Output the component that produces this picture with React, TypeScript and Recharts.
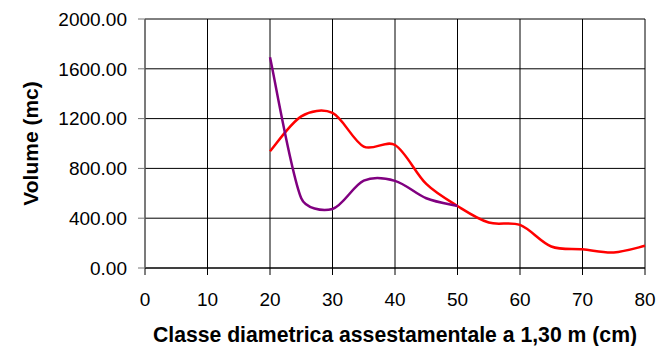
import React from 'react';
import {
  LineChart,
  Line,
  XAxis,
  YAxis,
  CartesianGrid,
} from 'recharts';

// diameter classes (cm)
const diameters = [20, 25, 30, 35, 40, 45, 50, 55, 60, 65, 70, 75, 80];
// red series volume (mc)
const volumeRed = [938, 1218, 1245, 975, 988, 675, 498, 365, 346, 173, 150, 125, 178];
// purple series volume (mc), stops at class 50
const volumePurple = [1693, 560, 474, 701, 700, 560, 498];

const xTicks = [0, 10, 20, 30, 40, 50, 60, 70, 80];
const yTicks = [0, 400, 800, 1200, 1600, 2000];

const data = diameters.map((d, i) => ({
  d,
  red: volumeRed[i],
  purple: i < volumePurple.length ? volumePurple[i] : null,
}));

const font = 'Arial, "Liberation Sans", sans-serif';

// spreadsheet-style smoothing: Catmull-Rom, control arms capped to 1/3 of the segment
const smoothCurve = (context: any) => {
  let pts: number[][] = [];
  const arm = (a: number[], b: number[], seg: number) => {
    let dx = (b[0] - a[0]) / 6;
    let dy = (b[1] - a[1]) / 6;
    const len = Math.hypot(dx, dy);
    const max = seg / 3;
    if (len > max && len > 0) {
      dx *= max / len;
      dy *= max / len;
    }
    return [dx, dy];
  };
  return {
    areaStart() {},
    areaEnd() {},
    lineStart() {
      pts = [];
    },
    lineEnd() {
      if (!pts.length) return;
      context.moveTo(pts[0][0], pts[0][1]);
      for (let i = 0; i < pts.length - 1; i++) {
        const p0 = pts[i - 1] || pts[i];
        const p1 = pts[i];
        const p2 = pts[i + 1];
        const p3 = pts[i + 2] || p2;
        const seg = Math.hypot(p2[0] - p1[0], p2[1] - p1[1]);
        const a = arm(p0, p2, seg);
        const b = arm(p1, p3, seg);
        context.bezierCurveTo(
          p1[0] + a[0],
          p1[1] + a[1],
          p2[0] - b[0],
          p2[1] - b[1],
          p2[0],
          p2[1]
        );
      }
    },
    point(x: number, y: number) {
      pts.push([+x, +y]);
    },
  };
};

const App: React.FC = () => {
  return (
    <div style={{ position: 'absolute', left: 0, top: 0, fontFamily: font }}>
      <LineChart
        width={658}
        height={346}
        data={data}
        margin={{ top: 19, right: 13, left: 0, bottom: 0 }}
      >
        <CartesianGrid stroke="#000" strokeWidth={1} vertical horizontal />
        <XAxis
          dataKey="d"
          type="number"
          domain={[0, 80]}
          ticks={xTicks}
          height={78}
          tickSize={7}
          tickMargin={18}
          stroke="#000"
          tick={{ fill: '#000', fontSize: 19, fontFamily: font }}
          label={{
            value: 'Classe diametrica assestamentale a 1,30 m (cm)',
            position: 'insideBottom',
            offset: 4,
            style: { fill: '#000', fontSize: 21.2, fontWeight: 'bold', fontFamily: font },
          }}
        />
        <YAxis
          type="number"
          domain={[0, 2000]}
          ticks={yTicks}
          width={145}
          tickSize={7}
          tickMargin={11}
          stroke="#777"
          tickFormatter={(v: number) => v.toFixed(2)}
          tick={{ fill: '#000', fontSize: 19, fontFamily: font }}
          label={{
            value: 'Volume (mc)',
            angle: -90,
            position: 'center',
            dx: -42,
            style: { fill: '#000', fontSize: 21, fontWeight: 'bold', fontFamily: font },
          }}
        />
        <Line
          type={smoothCurve as any}
          dataKey="red"
          stroke="#FF0000"
          strokeWidth={2.5}
          dot={false}
          isAnimationActive={false}
        />
        <Line
          type={smoothCurve as any}
          dataKey="purple"
          stroke="#800080"
          strokeWidth={2.5}
          dot={false}
          connectNulls={false}
          isAnimationActive={false}
        />
      </LineChart>
    </div>
  );
};

export default App;
